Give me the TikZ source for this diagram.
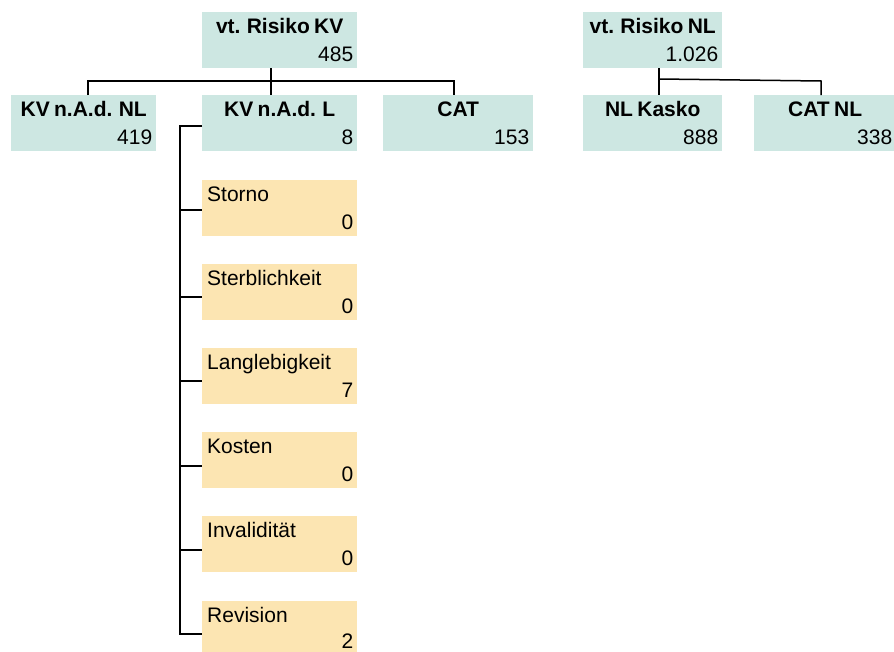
\documentclass[tikz,border=0pt]{standalone}
\usepackage{fontspec}
\setmainfont[WordSpace=0.75]{Liberation Sans}
\usetikzlibrary{calc}
\definecolor{boxgreen}{RGB}{205,231,226}
\definecolor{boxorange}{RGB}{252,229,178}
\tikzset{
  gbox/.style={fill=boxgreen, draw=none, anchor=north west, inner sep=0pt, minimum height=56pt},
  obox/.style={fill=boxorange, draw=none, anchor=north west, inner sep=0pt, minimum height=56pt, minimum width=155pt},
  titletext/.style={font=\fontsize{21}{25}\selectfont\bfseries, inner sep=0pt},
  plaintext/.style={font=\fontsize{21}{25}\selectfont, inner sep=0pt},
  conn/.style={draw=black, line width=1.5pt},
}
\newcommand\greenbox[6]{%
  \node[gbox, minimum width=#4pt] (#1) at (#2,#3) {};
  \node[titletext, anchor=base] (#1-t) at ([yshift=-21pt]#1.north) {#5};
  \node[plaintext, anchor=base east] (#1-v) at ([xshift=-4pt,yshift=-49pt]#1.north east) {#6};
}
\newcommand\orangebox[6]{%
  \node[obox] (#1) at (#2,#3) {};
  \node[plaintext, anchor=base west] (#1-t) at ([xshift=5pt,yshift=-21pt]#1.north west) {#4};
  \node[plaintext, anchor=base east] (#1-v) at ([xshift=-4pt,yshift=-#6pt]#1.north east) {#5};
}
\begin{document}
\begin{tikzpicture}[x=1pt,y=-1pt]
  \useasboundingbox (0,0) rectangle (894,651);
  \begin{scope}
  \clip (0,0) rectangle (894,651);
  % top level
  \greenbox{kvr}{202}{12}{155}{vt. Risiko KV}{485}
  \greenbox{nlr}{583}{12}{139}{vt. Risiko NL}{1.026}
  % second level
  \greenbox{kvnl}{11}{95}{145}{KV n.A.d. NL}{419}
  \greenbox{kvl}{202}{95}{155}{KV n.A.d. L}{8}
  \greenbox{cat}{383}{95}{150}{CAT}{153}
  \greenbox{nlk}{583}{95}{139}{NL Kasko}{888}
  \greenbox{catnl}{754}{95}{142}{CAT NL}{338}
  % sub level
  \orangebox{sto}{202}{180}{Storno}{0}{49}
  \orangebox{ste}{202}{264}{Sterblichkeit}{0}{49}
  \orangebox{lan}{202}{348}{Langlebigkeit}{7}{49}
  \orangebox{kos}{202}{432}{Kosten}{0}{49}
  \orangebox{inv}{202}{516}{Invalidität}{0}{49}
  \orangebox{rev}{202}{601}{Revision}{2}{47}
  \end{scope}
  % connectors KV
  \draw[conn] ([xshift=69pt]kvr.south west) -- ([xshift=69pt]kvl.north west);
  \draw[conn] ([xshift=77pt]kvnl.north west) |- ([xshift=69pt,yshift=14pt]kvl.north west)
     -| ([xshift=71pt]cat.north west);
  % connectors NL
  \draw[conn] ([xshift=76pt]nlr.south west) -- ([xshift=76pt]nlk.north west);
  \draw[conn] ([xshift=76pt,yshift=16pt]nlk.north west) -- ([xshift=67pt,yshift=14pt]catnl.north west)
     -- ([xshift=67pt]catnl.north west);
  % connectors sub level
  \coordinate (spine) at ([xshift=-22pt]kvl.west);
  \draw[conn] ([yshift=-3pt]kvl.west) -- ([yshift=-3pt]spine) -- ([yshift=-33pt]rev.north west -| spine) -- ([yshift=-33pt]rev.north west);
  \draw[conn] ([yshift=-30pt]sto.north west -| spine) -- ([yshift=-30pt]sto.north west);
  \draw[conn] ([yshift=-33pt]ste.north west -| spine) -- ([yshift=-33pt]ste.north west);
  \draw[conn] ([yshift=-33pt]lan.north west -| spine) -- ([yshift=-33pt]lan.north west);
  \draw[conn] ([yshift=-34pt]kos.north west -| spine) -- ([yshift=-34pt]kos.north west);
  \draw[conn] ([yshift=-34pt]inv.north west -| spine) -- ([yshift=-34pt]inv.north west);
\end{tikzpicture}
\end{document}
